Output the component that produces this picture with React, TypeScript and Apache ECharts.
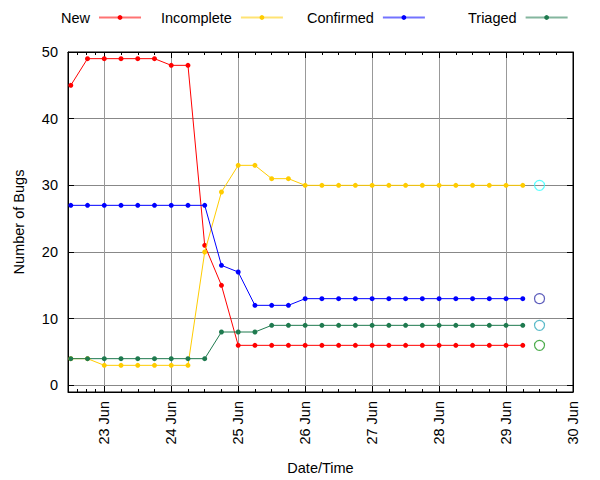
import React, { useEffect, useRef } from "react";
import * as echarts from "echarts";

const times: string[] = [
  "2009-06-22T12:00:00Z", "2009-06-22T18:00:00Z",
  "2009-06-23T00:00:00Z", "2009-06-23T06:00:00Z", "2009-06-23T12:00:00Z", "2009-06-23T18:00:00Z",
  "2009-06-24T00:00:00Z", "2009-06-24T06:00:00Z", "2009-06-24T12:00:00Z", "2009-06-24T18:00:00Z",
  "2009-06-25T00:00:00Z", "2009-06-25T06:00:00Z", "2009-06-25T12:00:00Z", "2009-06-25T18:00:00Z",
  "2009-06-26T00:00:00Z", "2009-06-26T06:00:00Z", "2009-06-26T12:00:00Z", "2009-06-26T18:00:00Z",
  "2009-06-27T00:00:00Z", "2009-06-27T06:00:00Z", "2009-06-27T12:00:00Z", "2009-06-27T18:00:00Z",
  "2009-06-28T00:00:00Z", "2009-06-28T06:00:00Z", "2009-06-28T12:00:00Z", "2009-06-28T18:00:00Z",
  "2009-06-29T00:00:00Z", "2009-06-29T06:00:00Z",
];

const newBugs: number[] = [45, 49, 49, 49, 49, 49, 48, 48, 21, 15, 6, 6, 6, 6, 6, 6, 6, 6, 6, 6, 6, 6, 6, 6, 6, 6, 6, 6];
const incomplete: number[] = [4, 4, 3, 3, 3, 3, 3, 3, 20, 29, 33, 33, 31, 31, 30, 30, 30, 30, 30, 30, 30, 30, 30, 30, 30, 30, 30, 30];
const confirmed: number[] = [27, 27, 27, 27, 27, 27, 27, 27, 27, 18, 17, 12, 12, 12, 13, 13, 13, 13, 13, 13, 13, 13, 13, 13, 13, 13, 13, 13];
const triaged: number[] = [4, 4, 4, 4, 4, 4, 4, 4, 4, 8, 8, 8, 9, 9, 9, 9, 9, 9, 9, 9, 9, 9, 9, 9, 9, 9, 9, 9];

const projectionTime = "2009-06-29T12:00:00Z";
const projectionValues: number[] = [30, 13, 9, 6];
const projectionColors: string[] = ["#33ffff", "#3333aa", "#33aabb", "#229922"];

const seriesNames: string[] = ["New", "Incomplete", "Confirmed", "Triaged"];
const seriesColors: string[] = ["#ff0000", "#ffcc00", "#0000ff", "#1f7a4f"];

const xMin = "2009-06-22T11:00:00Z";
const xMax = "2009-06-30T00:00:00Z";
const yMin = -1;
const yMax = 50;

const FONT = "Liberation Sans";

export default function App() {
  const ref = useRef<HTMLDivElement>(null);
  useEffect(() => {
    if (!ref.current) return;
    const chart = echarts.init(ref.current, undefined, { renderer: "svg" });
    const t = times.map((s) => Date.parse(s));
    const allData = [newBugs, incomplete, confirmed, triaged];
    const legendLefts = [61, 161, 307, 468];
    const dayFmt = (v: number) => `${new Date(v).getUTCDate()} Jun`;

    const lineSeries = seriesNames.map((name, i) => ({
      name,
      type: "line",
      xAxisIndex: 0,
      yAxisIndex: 0,
      data: allData[i].map((v, j) => [t[j], v]),
      symbol: "circle",
      symbolSize: 5,
      showSymbol: true,
      lineStyle: { width: 1, color: seriesColors[i] },
      itemStyle: { color: seriesColors[i] },
      z: 3 + i,
    }));

    const option: any = {
      animation: false,
      useUTC: true,
      backgroundColor: "#fff",
      textStyle: { fontFamily: FONT },
      legend: seriesNames.map((name, i) => ({
        data: [name],
        left: legendLefts[i],
        top: 10,
        padding: 0,
        align: "right",
        itemWidth: 42,
        itemHeight: 6,
        itemGap: 0,
        selectedMode: false,
        textStyle: { fontFamily: FONT, fontSize: 14.5, color: "#000", padding: [0, 4, 0, 0] },
        lineStyle: { opacity: 0.55, width: 2 },
      })),
      grid: { left: 68, right: 27, top: 52, bottom: 86, show: true, borderColor: "#000", borderWidth: 1, backgroundColor: "transparent" },
      xAxis: [
        {
          type: "time",
          position: "bottom",
          min: Date.parse(xMin),
          max: Date.parse(xMax),
          minInterval: 86400000,
          maxInterval: 86400000,
          name: "Date/Time",
          nameLocation: "middle",
          nameGap: 68,
          nameTextStyle: { fontFamily: FONT, fontSize: 14.5, color: "#000" },
          axisLine: { show: true, onZero: false, lineStyle: { color: "#000", width: 1 } },
          axisTick: { show: true, inside: true, length: 6, lineStyle: { color: "#000" } },
          minorTick: { show: true, splitNumber: 4, length: 3, lineStyle: { color: "#000" } },
          axisLabel: {
            rotate: 90,
            formatter: dayFmt,
            fontFamily: FONT,
            fontSize: 14.5,
            color: "#000",
            margin: 9,
            hideOverlap: false,
            showMinLabel: false,
            showMaxLabel: true,
          },
          splitLine: { show: true, lineStyle: { color: "#999", width: 1 } },
        },
        {
          type: "time",
          position: "top",
          min: Date.parse(xMin),
          max: Date.parse(xMax),
          minInterval: 86400000,
          maxInterval: 86400000,
          axisLine: { show: true, onZero: false, lineStyle: { color: "#000", width: 1 } },
          axisTick: { show: true, inside: true, length: 6, lineStyle: { color: "#000" } },
          minorTick: { show: true, splitNumber: 4, length: 3, lineStyle: { color: "#000" } },
          axisLabel: { show: false },
          splitLine: { show: false },
        },
      ],
      yAxis: [
        {
          type: "value",
          position: "left",
          min: yMin,
          max: yMax,
          splitNumber: 5,
          name: "Number of Bugs",
          nameLocation: "middle",
          nameGap: 42,
          nameTextStyle: { fontFamily: FONT, fontSize: 14.5, color: "#000" },
          axisLine: { show: true, onZero: false, lineStyle: { color: "#000", width: 1 } },
          axisTick: { show: true, inside: true, length: 6, lineStyle: { color: "#000" } },
          axisLabel: {
            fontFamily: FONT,
            fontSize: 14.5,
            color: "#000",
            margin: 10,
            showMinLabel: false,
            formatter: (v: number) => (v % 10 === 0 ? String(v) : ""),
          },
          splitLine: { show: true, lineStyle: { color: "#888", width: 1 } },
        },
        {
          type: "value",
          position: "right",
          min: yMin,
          max: yMax,
          splitNumber: 5,
          axisLine: { show: true, onZero: false, lineStyle: { color: "#000", width: 1 } },
          axisTick: { show: true, inside: true, length: 6, lineStyle: { color: "#000" } },
          axisLabel: { show: false },
          splitLine: { show: false },
        },
      ],
      series: [
        ...lineSeries,
        {
          name: "Projection",
          type: "scatter",
          xAxisIndex: 0,
          yAxisIndex: 0,
          symbol: "circle",
          symbolSize: 10,
          data: projectionValues.map((v, i) => ({
            value: [Date.parse(projectionTime), v],
            itemStyle: { color: "rgba(255,255,255,0)", borderColor: projectionColors[i], borderWidth: 1.2 },
          })),
          z: 10,
        },
      ],
    };
    chart.setOption(option);
    return () => chart.dispose();
  }, []);
  return <div ref={ref} style={{ width: 600, height: 480, position: "absolute", left: 0, top: 0 }} />;
}
